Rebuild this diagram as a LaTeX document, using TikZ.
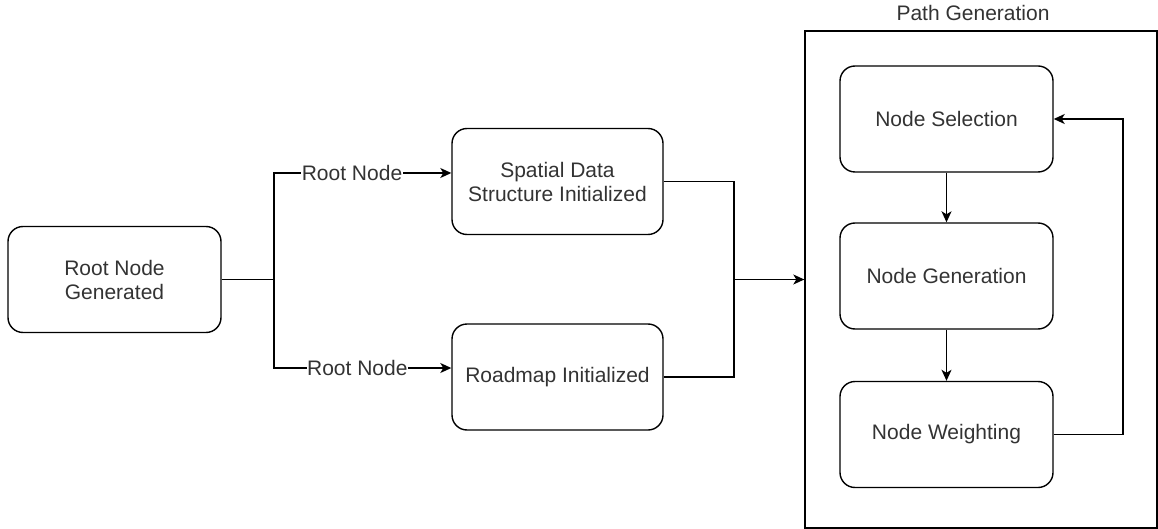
\documentclass[tikz,border=0pt]{standalone}
\usepackage{fontspec}
\setmainfont{Liberation Sans}
\usetikzlibrary{arrows.meta}
\begin{document}
\begin{tikzpicture}[x=1pt,y=-1pt,
  font=\fontsize{21}{24}\selectfont,
  line width=1.4pt,
  box/.style={draw, rounded corners=15pt, minimum width=213pt, minimum height=106pt,
    inner sep=0pt, align=center, text=black!80},
  group/.style={draw, sharp corners, minimum width=352pt, minimum height=497pt, inner sep=0pt},
  lbl/.style={fill=white, inner sep=0.5pt, text=black!80},
  arr/.style={-{Stealth[length=11pt,width=10pt,inset=3pt]}}]
\useasboundingbox (0,0) rectangle (1158,529);
% group
\node[group] (path) at (981,279.5) {};
\node[text=black!80] (plabel) at (973,13) {Path Generation};
% nodes
\node[box] (root) at (114.5,279.5) {Root Node\\Generated};
\node[box, minimum width=211pt] (spatial) at (557.5,181.5) {Spatial Data\\Structure Initialized};
\node[box, minimum width=211pt] (roadmap) at (557.5,377) {Roadmap Initialized};
\node[box] (sel) at (946.5,119) {Node Selection};
\node[box] (gen) at (946.5,276) {Node Generation};
\node[box] (wgt) at (946.5,434.5) {Node Weighting};
% junctions
\coordinate (j1) at (274,279.5);
\coordinate (t1) at (274,173);
\coordinate (b1) at (274,368);
\coordinate (j2) at (734,279.5);
\coordinate (fb) at (1123,0);
% connectors
\draw (root.east) -- (j1);
\draw[arr] (j1) -- (t1) -- node[lbl,pos=0.44] {Root Node} ([yshift=8.5pt]spatial.west);
\draw[arr] (j1) -- (b1) -- node[lbl,pos=0.47] {Root Node} ([yshift=9pt]roadmap.west);
\draw (spatial.east) -| (j2);
\draw (roadmap.east) -| (j2);
\draw[arr] (j2) -- (path.west);
\draw[arr] (sel.south) -- (gen.north);
\draw[arr] (gen.south) -- (wgt.north);
\draw[arr] (wgt.east) -- (wgt.east -| fb) |- (sel.east);
\end{tikzpicture}
\end{document}
